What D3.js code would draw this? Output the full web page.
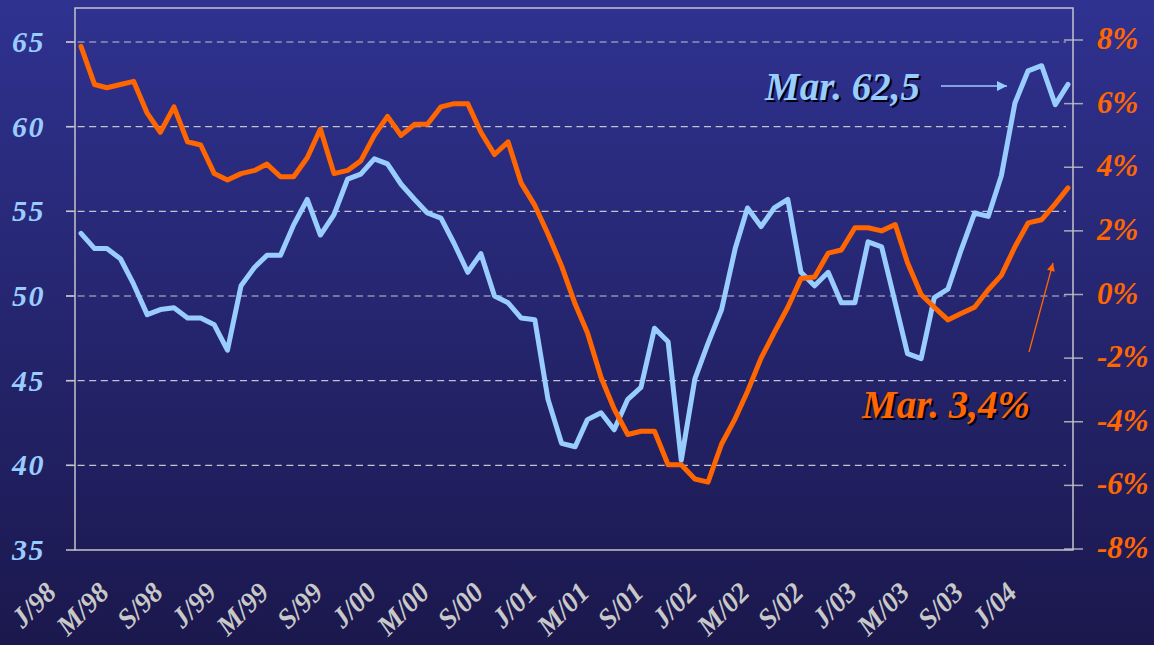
<!DOCTYPE html>
<html lang="en">
<head>
    <meta charset="UTF-8"/>
    <title>PMI vs growth</title>
    <script src="https://d3js.org/d3.v7.min.js" charset="utf-8"></script>
    <style type="text/css">
        body {
            margin: 0;
            background: #1b1950;
        }
        text {
            font-family: "Liberation Serif", "Times New Roman", serif;
            font-weight: bold;
            font-style: italic;
        }
    </style>
</head>
<body>

<div id="my_dataviz"></div>

<script>

// monthly index, Jan 1998 .. Mar 2004 (left axis)
var indexValues = [
  53.7, 52.8, 52.8, 52.2, 50.7, 48.9, 49.2, 49.3, 48.7, 48.7, 48.3, 46.8,
  50.6, 51.7, 52.4, 52.4, 54.2, 55.7, 53.6, 54.8, 56.9, 57.2, 58.1, 57.8,
  56.6, 55.7, 54.9, 54.6, 53.1, 51.4, 52.5, 50.0, 49.6, 48.7, 48.6, 43.9,
  41.3, 41.1, 42.7, 43.1, 42.1, 43.9, 44.6, 48.1, 47.3, 40.3, 45.1, 47.2,
  49.2, 52.8, 55.2, 54.1, 55.2, 55.7, 51.4, 50.6, 51.4, 49.6, 49.6, 53.2,
  52.9, 49.6, 46.6, 46.3, 49.9, 50.4, 52.7, 54.9, 54.7, 57.1, 61.4, 63.3,
  63.6, 61.3, 62.5
];

// annual growth in % (right axis)
var growthValues = [
   7.8,  6.6,  6.5,  6.6,  6.7,  5.7,  5.1,  5.9,  4.8,  4.7,  3.8,  3.6,
   3.8,  3.9,  4.1,  3.7,  3.7,  4.3,  5.2,  3.8,  3.9,  4.2,  5.0,  5.6,
   5.0,  5.35, 5.35, 5.9,  6.0,  6.0,  5.1,  4.4,  4.8,  3.5,  2.8,  1.9,
   0.9, -0.3, -1.2, -2.6, -3.6, -4.4, -4.3, -4.3, -5.35, -5.35, -5.8, -5.9,
  -4.7, -3.9, -3.05, -2.0, -1.2, -0.4,  0.5,  0.55, 1.3,  1.4,  2.1,  2.1,
   2.0,  2.2,  1.0,  0.0, -0.4, -0.8, -0.6, -0.4,  0.15, 0.6,  1.5,  2.25,
   2.35, 2.85, 3.35
];

var tickLabels = ["J/98", "M/98", "S/98", "J/99", "M/99", "S/99", "J/00", "M/00", "S/00",
                  "J/01", "M/01", "S/01", "J/02", "M/02", "S/02", "J/03", "M/03", "S/03", "J/04"];

var leftTicks = [35, 40, 45, 50, 55, 60, 65];
var rightTicks = [-8, -6, -4, -2, 0, 2, 4, 6, 8];

var months = d3.timeMonth.range(new Date(1998, 0, 1), new Date(2004, 3, 1));
var labelMonths = d3.timeMonth.every(4).range(new Date(1998, 0, 1), new Date(2004, 1, 1));

var width = 1154, height = 645;
var plot = {left: 75, right: 1073, top: 8, bottom: 550};

var svg = d3.select("#my_dataviz")
  .append("svg")
    .attr("width", width)
    .attr("height", height);

// background gradient
var grad = svg.append("defs").append("linearGradient")
    .attr("id", "bg")
    .attr("x1", 0).attr("y1", 0).attr("x2", 0).attr("y2", 1);
grad.append("stop").attr("offset", "0%").attr("stop-color", "#2f3290");
grad.append("stop").attr("offset", "100%").attr("stop-color", "#1b184d");

svg.append("rect")
    .attr("width", width)
    .attr("height", height)
    .attr("fill", "url(#bg)");

// scales
var x = d3.scaleTime()
  .domain([months[0], months[months.length - 1]])
  .range([81, 1068]);

var yLeft = d3.scaleLinear()
  .domain([35, 65])
  .range([550, 42]);

var yRight = d3.scaleLinear()
  .domain([-8, 8])
  .range([549, 40]);

// gridlines
svg.append("g")
  .selectAll("line")
  .data(leftTicks.slice(1))
  .enter()
  .append("line")
    .attr("x1", 66)
    .attr("x2", 1066)
    .attr("y1", function(d) { return yLeft(d); })
    .attr("y2", function(d) { return yLeft(d); })
    .attr("stroke", "#c4c4cc")
    .attr("stroke-width", 1.2)
    .attr("stroke-dasharray", "7,4.6");

// left tick marks
svg.append("g")
  .selectAll("line")
  .data(leftTicks)
  .enter()
  .append("line")
    .attr("x1", 66)
    .attr("x2", plot.left)
    .attr("y1", function(d) { return yLeft(d); })
    .attr("y2", function(d) { return yLeft(d); })
    .attr("stroke", "#c4c4cc")
    .attr("stroke-width", 1.5);

// right tick marks
svg.append("g")
  .selectAll("line")
  .data(rightTicks)
  .enter()
  .append("line")
    .attr("x1", 1064)
    .attr("x2", 1083)
    .attr("y1", function(d) { return yRight(d); })
    .attr("y2", function(d) { return yRight(d); })
    .attr("stroke", "#a8a8b8")
    .attr("stroke-width", 1.5);

// frame
svg.append("rect")
    .attr("x", plot.left)
    .attr("y", plot.top)
    .attr("width", plot.right - plot.left)
    .attr("height", plot.bottom - plot.top)
    .attr("fill", "none")
    .attr("stroke", "#c4c4cc")
    .attr("stroke-width", 1.5);

// left labels
svg.append("g")
  .selectAll("text")
  .data(leftTicks)
  .enter()
  .append("text")
    .attr("x", 45)
    .attr("y", function(d) { return yLeft(d) + 10; })
    .attr("text-anchor", "end")
    .attr("font-size", 30)
    .attr("letter-spacing", 1.5)
    .attr("fill", "#99ccff")
    .text(function(d) { return d; });

// right labels
svg.append("g")
  .selectAll("text")
  .data(rightTicks)
  .enter()
  .append("text")
    .attr("x", 1097)
    .attr("y", function(d) { return yRight(d) + 9; })
    .attr("font-size", 31)
    .attr("fill", "#ff6600")
    .text(function(d) { return d + "%"; });

// X axis labels
svg.append("g")
  .selectAll("text")
  .data(labelMonths)
  .enter()
  .append("text")
    .attr("transform", function(d) { return "translate(" + (x(d) - 23) + ",594)rotate(-45)"; })
    .attr("text-anchor", "end")
    .attr("font-size", 28)
    .attr("fill", "#c8c8c8")
    .text(function(d, i) { return tickLabels[i]; });

// Lines
var lineLeft = d3.line()
  .x(function(d, i) { return x(months[i]); })
  .y(function(d) { return yLeft(d); });

var lineRight = d3.line()
  .x(function(d, i) { return x(months[i]); })
  .y(function(d) { return yRight(d); });

svg.append("path")
    .datum(indexValues)
    .attr("d", lineLeft)
    .attr("fill", "none")
    .attr("stroke", "#99ccff")
    .attr("stroke-width", 5)
    .attr("stroke-linejoin", "round")
    .attr("stroke-linecap", "round");

svg.append("path")
    .datum(growthValues)
    .attr("d", lineRight)
    .attr("fill", "none")
    .attr("stroke", "#ff6600")
    .attr("stroke-width", 5)
    .attr("stroke-linejoin", "round")
    .attr("stroke-linecap", "round");

// annotations
var defs = svg.select("defs");
defs.append("marker")
    .attr("id", "headBlue")
    .attr("viewBox", "0 0 10 10")
    .attr("refX", 10).attr("refY", 5)
    .attr("markerWidth", 10).attr("markerHeight", 10)
    .attr("markerUnits", "userSpaceOnUse")
    .attr("orient", "auto")
  .append("path")
    .attr("d", "M0,0L10,5L0,10z")
    .attr("fill", "#99ccff");
defs.append("marker")
    .attr("id", "headOrange")
    .attr("viewBox", "0 0 10 10")
    .attr("refX", 10).attr("refY", 5)
    .attr("markerWidth", 10).attr("markerHeight", 8)
    .attr("markerUnits", "userSpaceOnUse")
    .attr("orient", "auto")
  .append("path")
    .attr("d", "M0,0L10,5L0,10z")
    .attr("fill", "#ff6600");

function note(txt, tx, ty, color) {
  svg.append("text")
    .attr("x", tx + 2).attr("y", ty + 2)
    .attr("font-size", 39)
    .attr("fill", "#000010")
    .text(txt);
  svg.append("text")
    .attr("x", tx).attr("y", ty)
    .attr("font-size", 39)
    .attr("fill", color)
    .text(txt);
}

note("Mar. 62,5", 765, 100, "#99ccff");
note("Mar. 3,4%", 862, 418, "#ff6600");

svg.append("line")
    .attr("x1", 941).attr("y1", 86)
    .attr("x2", 1007).attr("y2", 86)
    .attr("stroke", "#99ccff")
    .attr("stroke-width", 1.5)
    .attr("marker-end", "url(#headBlue)");

svg.append("line")
    .attr("x1", 1029).attr("y1", 352)
    .attr("x2", 1053).attr("y2", 263)
    .attr("stroke", "#ff6600")
    .attr("stroke-width", 1.3)
    .attr("marker-end", "url(#headOrange)");

</script>

</body>
</html>
